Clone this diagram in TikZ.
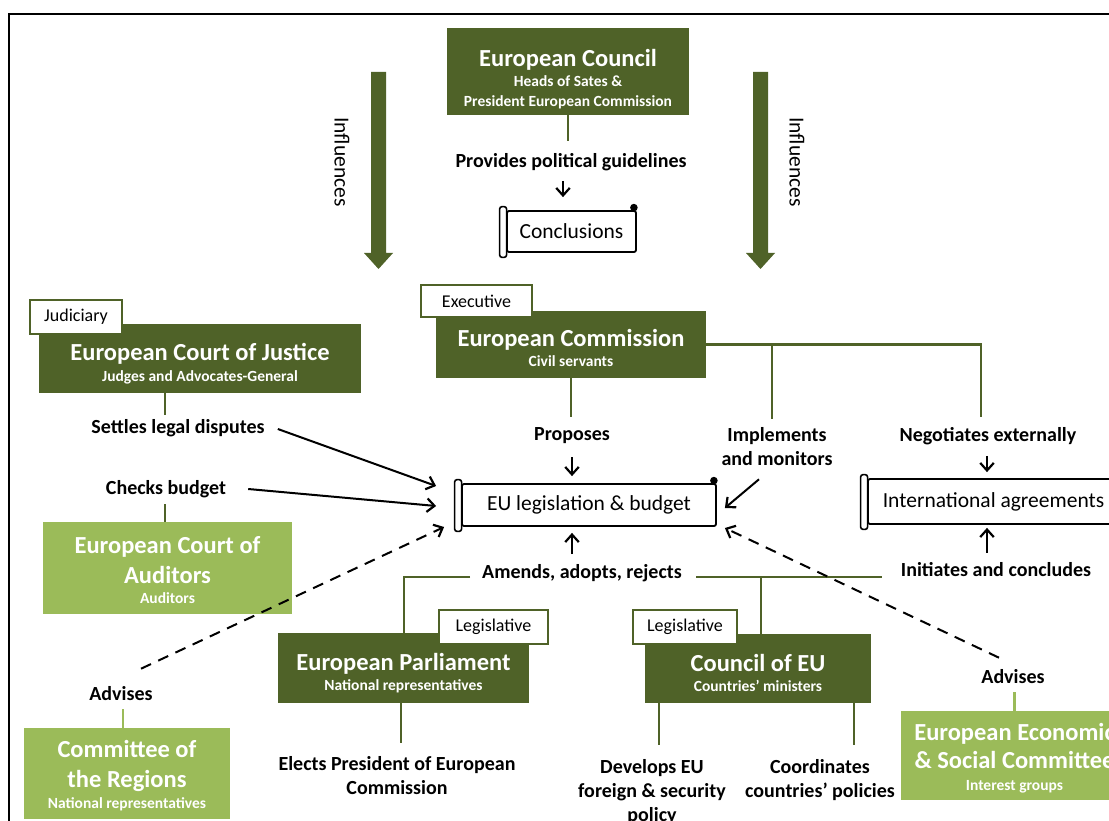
\documentclass[tikz,border=0pt]{standalone}
\usepackage{fontspec}
\setmainfont{Carlito}
\usetikzlibrary{arrows.meta}
\definecolor{dkgreen}{HTML}{4F6228}
\definecolor{ltgreen}{HTML}{9BBB59}
\newcommand{\subt}[1]{{\fontsize{15.5}{18}\selectfont #1}}
\tikzset{
  darkbox/.style={fill=dkgreen, inner sep=0pt},
  lightbox/.style={fill=ltgreen, inner sep=0pt},
  boxtext/.style={text=white, align=center, inner sep=0pt, font=\bfseries\fontsize{24.5}{20}\selectfont},
  ltext/.style={boxtext, font=\bfseries\fontsize{24.5}{30}\selectfont},
  tabbox/.style={draw=dkgreen, line width=2pt, fill=white, inner sep=0pt, font=\fontsize{18}{20}\selectfont},
  lbl/.style={font=\bfseries\fontsize{20}{24}\selectfont, align=center, inner sep=0pt},
  gline/.style={draw=dkgreen, line width=2.3pt},
  lgline/.style={draw=ltgreen, line width=2.3pt},
  arr/.style={line width=2pt, -{Straight Barb[length=7.5pt,width=13.5pt,line width=2.2pt]}},
  darr/.style={arr, dash pattern=on 11pt off 8pt},
  scrollbox/.style={draw, line width=1.8pt, fill=white, rounded corners=2pt, inner sep=0pt, font=\fontsize{21.5}{24}\selectfont},
  bigarrow/.style={fill=dkgreen},
  infl/.style={rotate=-90, font=\fontsize{21.5}{24}\selectfont, inner sep=0pt},
}
\newcommand{\scrolldeco}[1]{%
  \draw[line width=1.6pt, fill=white, rounded corners=2.5pt] ([xshift=-6.5pt,yshift=3.5pt]#1.north west) rectangle ([xshift=0.5pt,yshift=-4.5pt]#1.south west);
  \fill ([xshift=-3pt,yshift=2.5pt]#1.north east) circle (3.8pt);
}
\begin{document}
\begin{tikzpicture}[x=1pt,y=-1pt]
\useasboundingbox (0,0) rectangle (1109,821);
\clip (0,0) rectangle (1109,821);
\fill[white] (0,0) rectangle (1109,821);
% frame
\draw[line width=1.8pt] (9,840) -- (9,14) -- (1130,14);

% influence arrows
\fill[bigarrow] (371,72) -- (386,72) -- (386,253) -- (393,253) -- (378.5,269) -- (364,253) -- (371,253) -- cycle;
\fill[bigarrow] (753,72) -- (768,72) -- (768,253) -- (775,253) -- (760.5,269) -- (746,253) -- (753,253) -- cycle;
\node[infl] (inflL) at (342,162) {Influences};
\node[infl] (inflR) at (797,162) {Influences};

% boxes
\node[darkbox, minimum width=242pt, minimum height=87pt] (ec) at (568,71.5) {};
\node[boxtext] (ect) at ([yshift=-7.5pt]ec.center)
  {European Council\\\subt{Heads of Sates \&}\\\subt{President European Commission}};
\node[darkbox, minimum width=270pt, minimum height=67pt] (comm) at (571,344.5) {};
\node[boxtext] (commt) at ([yshift=-3.5pt]comm.center)
  {European Commission\\\subt{Civil servants}};
\node[tabbox, minimum width=111pt, minimum height=32pt] (exec) at (476.5,301) {Executive};
\node[darkbox, minimum width=322pt, minimum height=69pt] (ecj) at (200,358.5) {};
\node[boxtext] (ecjt) at ([yshift=-5.5pt]ecj.center)
  {European Court of Justice\\[1pt]\subt{Judges and Advocates-General}};
\node[tabbox, minimum width=92pt, minimum height=34pt] (jud) at (76,317) {Judiciary};
\node[lightbox, minimum width=249pt, minimum height=92pt] (aud) at (167.5,568) {};
\node[ltext] (audt) at ([yshift=-2.5pt]aud.center)
  {European Court of\\Auditors\\[-10pt]\subt{Auditors}};
\node[lightbox, minimum width=206pt, minimum height=91pt] (cor) at (127,773.5) {};
\node[ltext] (cort) at ([yshift=-2pt]cor.center)
  {Committee of\\the Regions\\[-9pt]\subt{National representatives}};
\node[lightbox, minimum width=227pt, minimum height=89pt] (eesc) at (1014.5,755.5) {};
\node[ltext] (eesct) at ([yshift=-3pt]eesc.center)
  {European Economic\\[-2pt]\& Social Committee\\[-8pt]\subt{Interest groups}};
\node[darkbox, minimum width=251pt, minimum height=70pt] (parl) at (403.5,668) {};
\node[boxtext] (parlt) at ([yshift=-5pt]parl.center)
  {European Parliament\\\subt{National representatives}};
\node[tabbox, minimum width=109pt, minimum height=34pt] (legp) at (493.5,627) {Legislative};
\node[darkbox, minimum width=226pt, minimum height=69pt] (cou) at (758,668.5) {};
\node[boxtext] (cout) at ([yshift=-4pt]cou.center)
  {Council of EU\\\subt{Countries’ ministers}};
\node[tabbox, minimum width=104pt, minimum height=34pt] (legc) at (685,627) {Legislative};

% scrolls
\node[scrollbox, minimum width=129pt, minimum height=41pt] (concl) at (571.5,231.5) {Conclusions};
\scrolldeco{concl}
\node[scrollbox, minimum width=254pt, minimum height=42pt] (eu) at (589,505) {EU legislation \& budget};
\scrolldeco{eu}
\node[scrollbox, minimum width=251pt, minimum height=45pt] (intl) at (993.5,501.5) {International agreements};
\scrolldeco{intl}

% labels
\node[lbl] (prov) at (571,162) {Provides political guidelines};
\node[lbl] (prop) at (572,436) {Proposes};
\node[lbl] (impl) at (777,447) {Implements\\and monitors};
\node[lbl] (neg) at (988,436) {Negotiates externally};
\node[lbl] (settles) at (178,428) {Settles legal disputes};
\node[lbl] (checks) at (166,489) {Checks budget};
\node[lbl] (amends) at (582,573) {Amends, adopts, rejects};
\node[lbl] (init) at (996,570) {Initiates and concludes};
\node[lbl] (advL) at (121,694) {Advises};
\node[lbl] (advR) at (1013,677) {Advises};
\node[lbl] (elects) at (397,776) {Elects President of European\\Commission};
\node[lbl] (dev) at (652,792) {Develops EU\\foreign \& security\\policy};
\node[lbl] (coord) at (820,780) {Coordinates\\countries’ policies};

% green connectors
\draw[gline] (ec.south) -- ++(0,26);
\draw[gline] (comm.east) -- ++(275,0) -- ++(0,72);
\draw[gline] ([xshift=66pt]comm.east) -- ++(0,74);
\draw[gline] (comm.south) -- ++(0,39);
\draw[gline] ([xshift=-35pt]ecj.south) -- ++(0,22);
\draw[gline] ([xshift=-2.5pt]aud.north) -- ++(0,-18);
\draw[lgline] ([xshift=-4pt]cor.north) -- ++(0,-19);
\draw[lgline] (eesc.north) -- ++(0,-19);
\draw[gline] ([xshift=-12pt,yshift=-4pt]amends.west) coordinate (aL) -| ([xshift=0.5pt]parl.north);
\draw[gline] ([xshift=14pt,yshift=-4pt]amends.east) coordinate (aR) -- ([xshift=-19pt]init.west |- aR);
\draw[gline] ([xshift=3pt]cou.north) -- ([xshift=3pt]cou.north |- aR);
\draw[gline] ([xshift=-2.5pt]parl.south) -- ++(0,40);
\draw[gline] ([xshift=-99pt]cou.south) -- ++(0,42);
\draw[gline] ([xshift=96pt]cou.south) -- ++(0,42);

% black arrows
\draw[arr] ([xshift=-8pt,yshift=-10pt]prov.south) -- ([xshift=-8.5pt,yshift=13pt]concl.north);
\draw[arr] ([yshift=-13pt]prop.south) -- ([xshift=-17pt,yshift=7pt]eu.north);
\draw[arr] ([xshift=-18pt,yshift=-13pt]impl.south) -- ([xshift=8pt,yshift=-3pt]eu.east);
\draw[arr] ([xshift=-1pt,yshift=-11pt]neg.south) -- ([xshift=-6.5pt,yshift=6pt]intl.north);
\draw[arr] ([xshift=-9pt,yshift=10pt]init.north) -- ([xshift=-6.5pt,yshift=-3pt]intl.south);
\draw[arr] ([xshift=-10pt,yshift=10pt]amends.north) -- ([xshift=-17pt,yshift=-6pt]eu.south);
\draw[arr] ([xshift=13pt,yshift=-1pt]settles.east) -- ([xshift=-25pt,yshift=19pt]eu.west);
\draw[arr] ([xshift=22pt]checks.east) -- ([xshift=-25pt,yshift=-1pt]eu.west);
\draw[darr] ([xshift=20pt,yshift=18pt]advL.north) -- ([xshift=-17pt,yshift=-22pt]eu.west);
\draw[darr] ([xshift=-14pt,yshift=12pt]advR.north) -- ([xshift=8pt,yshift=-23pt]eu.east);
\end{tikzpicture}
\end{document}
